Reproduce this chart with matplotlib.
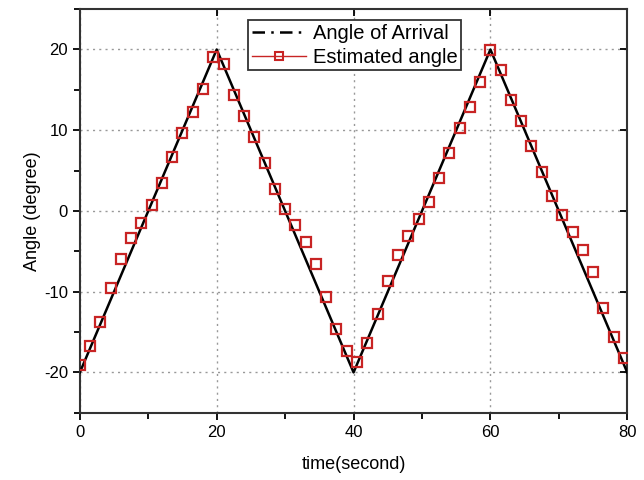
import matplotlib
matplotlib.use("Agg")
import matplotlib.pyplot as plt
from matplotlib.lines import Line2D
from matplotlib.ticker import MultipleLocator

plt.rcParams['font.family'] = ['Liberation Sans', 'DejaVu Sans']
plt.rcParams['axes.unicode_minus'] = False

# True angle of arrival (triangle wave vertices)
true_t = [0, 20, 40, 60, 80]
true_angle = [-20, 20, -20, 20, -20]

# Estimated angle samples
est_t = [0, 1.5, 3, 4.5, 6, 7.5, 9, 10.5, 12, 13.5, 15, 16.5, 18, 19.5,
         21, 22.5, 24, 25.5, 27, 28.5, 30, 31.5, 33, 34.5, 36, 37.5, 39,
         40.5, 42, 43.5, 45, 46.5, 48, 49.5, 51, 52.5, 54, 55.5, 57, 58.5,
         60, 61.5, 63, 64.5, 66, 67.5, 69, 70.5, 72, 73.5, 75, 76.5, 78, 79.5]
est_angle = [-19.1, -16.7, -13.7, -9.6, -6.0, -3.4, -1.45, 0.7, 3.5, 6.7,
             9.6, 12.3, 15.1, 19.1, 18.2, 14.4, 11.7, 9.1, 5.9, 2.7, 0.2,
             -1.8, -3.9, -6.6, -10.7, -14.6, -17.3, -18.7, -16.3, -12.8,
             -8.7, -5.4, -3.1, -1.0, 1.1, 4.1, 7.2, 10.3, 12.9, 16.0, 19.9,
             17.5, 13.7, 11.1, 8.0, 4.8, 1.9, -0.5, -2.6, -4.8, -7.55,
             -12.05, -15.6, -18.2]

labels = ['Angle of Arrival', 'Estimated angle']
red = '#c82424'

fig = plt.figure(figsize=(6.44, 4.8), dpi=100)
ax = fig.add_axes([0.124, 0.14, 0.85, 0.841])

ax.plot(true_t, true_angle, color='black', lw=1.8, zorder=3)
ax.plot(est_t, est_angle, linestyle='none', marker='s', markersize=7.3,
        markerfacecolor='none', markeredgecolor=red, markeredgewidth=1.6, zorder=4)

ax.set_xlim(0, 80)
ax.set_ylim(-25, 25)
ax.xaxis.set_major_locator(MultipleLocator(20))
ax.xaxis.set_minor_locator(MultipleLocator(10))
ax.yaxis.set_major_locator(MultipleLocator(10))
ax.yaxis.set_minor_locator(MultipleLocator(5))

ax.grid(True, which='major', linestyle=(0, (1.5, 3)), color='#999999', lw=1.0)
ax.tick_params(axis='both', which='major', direction='out', length=5, width=1.3,
               labelsize=12, top=True, right=True)
ax.tick_params(axis='both', which='minor', direction='out', length=4, width=1.3)
for t in ax.xaxis.get_major_ticks():
    t.tick2line.set_marker(matplotlib.lines.TICKDOWN)
for t in ax.yaxis.get_major_ticks():
    t.tick2line.set_marker(matplotlib.lines.TICKLEFT)
for sp in ax.spines.values():
    sp.set_linewidth(1.5)
    sp.set_color('#333333')

ax.set_xlabel('time(second)', fontsize=13, labelpad=12)
ax.set_ylabel('Angle (degree)', fontsize=13, labelpad=2)

handles = [Line2D([], [], color='black', lw=1.8, linestyle=(0, (5, 2.5, 1, 2.5))),
           Line2D([], [], color=red, lw=1.0, marker='s', markersize=6,
                  markerfacecolor='none', markeredgecolor=red, markeredgewidth=1.5)]
leg = ax.legend(handles, labels, loc='upper left', bbox_to_anchor=(0.307, 0.973),
                fontsize=14.5, frameon=True, fancybox=False, framealpha=1,
                edgecolor='#333333', borderpad=0.18, labelspacing=0.25,
                handlelength=2.7, handletextpad=0.35, borderaxespad=0)
leg.get_frame().set_linewidth(1.3)

fig.savefig('out.png', dpi=100)
